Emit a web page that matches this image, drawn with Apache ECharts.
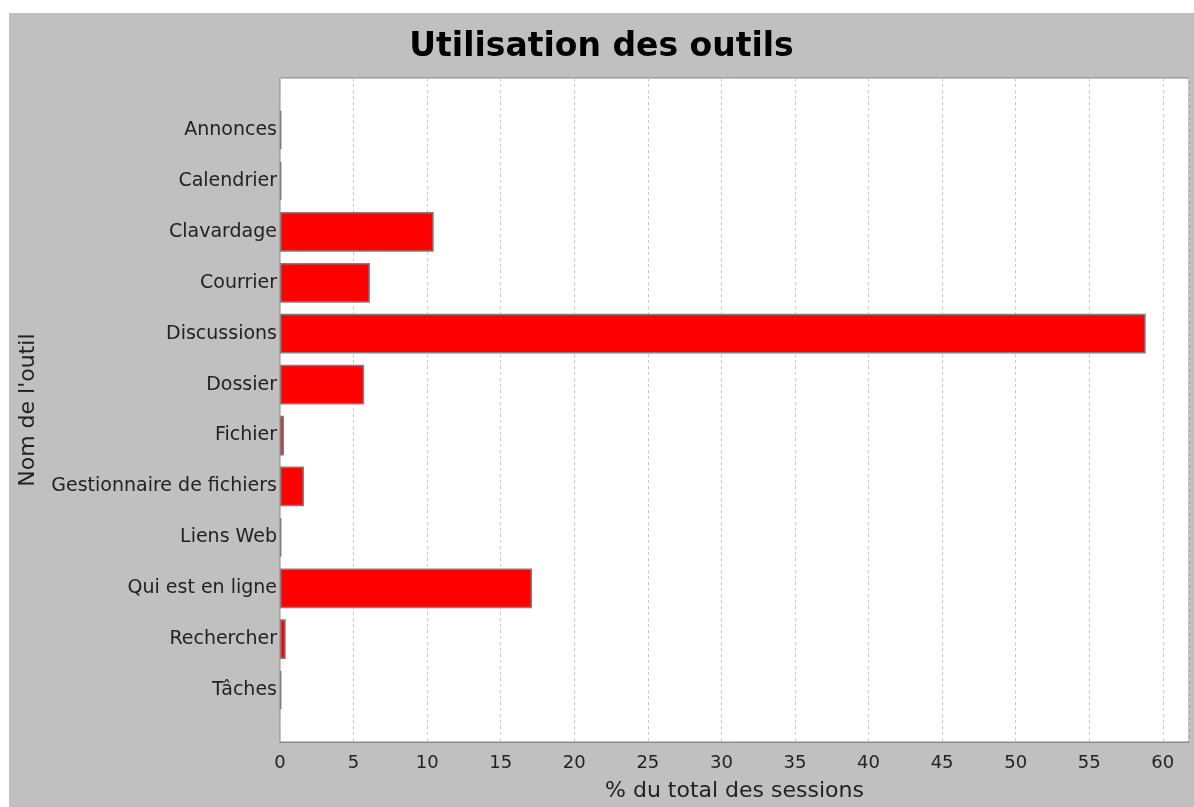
<!DOCTYPE html>
<html>
<head>
<meta charset="utf-8">
<script src="https://cdn.jsdelivr.net/npm/echarts@6/dist/echarts.min.js"></script>
<style>
html,body{margin:0;padding:0;background:#fff;}
#chart{position:absolute;left:9px;top:13px;width:1185px;height:794px;}
</style>
</head>
<body>
<div id="chart"></div>
<script>
const title = "Utilisation des outils";
const categories = ["Annonces","Calendrier","Clavardage","Courrier","Discussions","Dossier","Fichier","Gestionnaire de fichiers","Liens Web","Qui est en ligne","Rechercher","Tâches"];
const values = [0.1, 0.1, 10.45, 6.11, 58.84, 5.72, 0.27, 1.63, 0.1, 17.13, 0.39, 0.1];
const xTickMin = 0;
const xTickMax = 61.78;
const xTickStep = 5;
const xName = "% du total des sessions";
const yName = "Nom de l'outil";

const font = "DejaVu Sans";
const chart = echarts.init(document.getElementById('chart'));
chart.setOption({
  backgroundColor: '#c0c0c0',
  animation: false,
  title: {
    text: title, left: 'center', top: 13,
    textStyle: {fontFamily: font, fontSize: 33, fontWeight: 'bold', color: '#000'}
  },
  grid: [
    {left: 271, top: 65, width: 909, height: 664, show: true, backgroundColor: '#fff', borderColor: '#888', borderWidth: 1, containLabel: false},
    {left: 271, top: 91.6, width: 909, height: 611, show: false, containLabel: false}
  ],
  xAxis: [
    {gridIndex: 0, type: 'value', min: xTickMin, max: xTickMax, interval: xTickStep,
     name: xName, nameLocation: 'middle', nameGap: 38,
     nameTextStyle: {fontFamily: font, fontSize: 22, color: '#222'},
     axisLine: {show: true, lineStyle: {color: '#888'}},
     axisTick: {show: false},
     axisLabel: {fontFamily: font, fontSize: 18, color: '#222', margin: 12,
       formatter: v => (v % xTickStep === 0 ? String(v) : '')},
     splitLine: {show: true, lineStyle: {color: '#c8c8c8', type: [3, 3], width: 1}}},
    {gridIndex: 1, type: 'value', min: xTickMin, max: xTickMax, interval: xTickStep, show: false}
  ],
  yAxis: [
    {gridIndex: 0, type: 'value', show: false},
    {gridIndex: 1, type: 'category', data: categories, inverse: true,
     name: yName, nameLocation: 'middle', nameGap: 241,
     nameTextStyle: {fontFamily: font, fontSize: 22, color: '#222'},
     axisLine: {show: false}, axisTick: {show: false},
     axisLabel: {fontFamily: font, fontSize: 19, color: '#222', margin: 3},
     splitLine: {show: false}}
  ],
  series: [{
    type: 'bar', xAxisIndex: 1, yAxisIndex: 1, data: values, barWidth: '78%',
    itemStyle: {color: '#ff0000', borderColor: '#808080', borderWidth: 1.5}
  }]
});
</script>
</body>
</html>
